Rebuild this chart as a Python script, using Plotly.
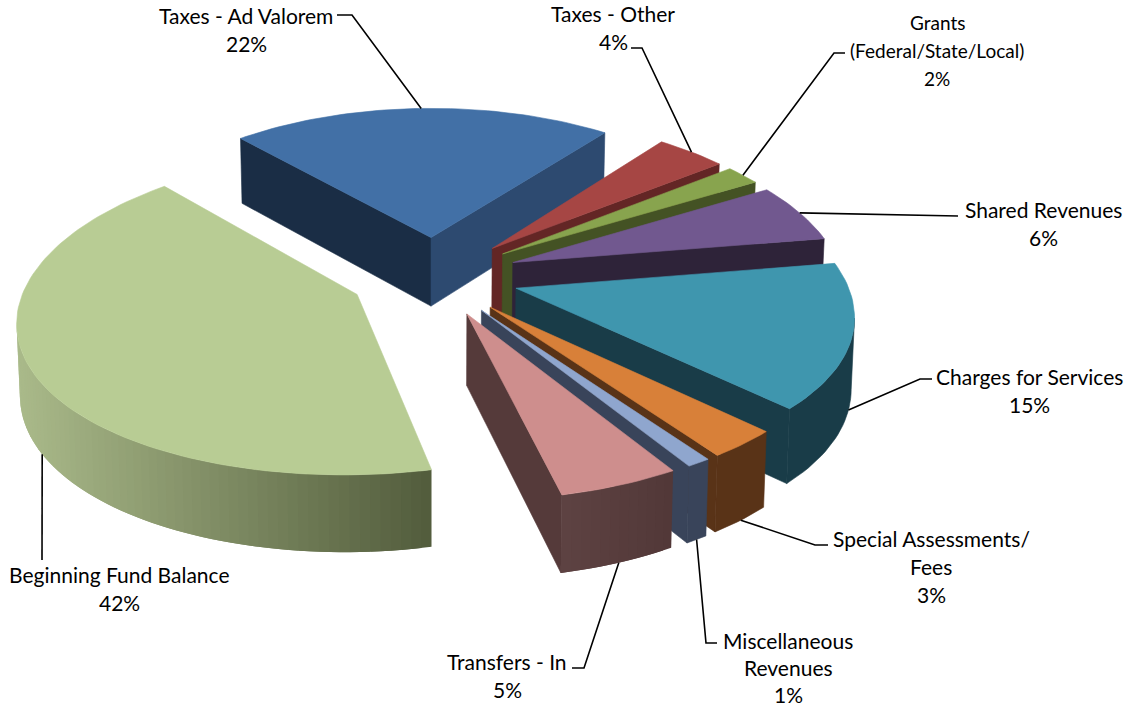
import math
import plotly.graph_objects as go

# Revenue shares, clockwise from the first slice
categories = ["Taxes - Ad Valorem", "Taxes - Other", "Grants (Federal/State/Local)",
              "Shared Revenues", "Charges for Services", "Special Assessments/ Fees",
              "Miscellaneous Revenues", "Transfers - In", "Beginning Fund Balance"]
shares = [22, 4, 2, 6, 15, 3, 1, 5, 42]

# Label text, split into drawn lines
label_lines = [["Taxes - Ad Valorem"], ["Taxes - Other"], ["Grants", "(Federal/State/Local)"],
               ["Shared Revenues"], ["Charges for Services"], ["Special Assessments/", "Fees"],
               ["Miscellaneous", "Revenues"], ["Transfers - In"], ["Beginning Fund Balance"]]

# Colours per slice: top face, first cut face, second cut face, outer wall start and end
top_colors = ["#4270A6", "#A64644", "#88A44E", "#71588F", "#3F96AE", "#D88039", "#8FA6CE", "#CE8E8D", "#B8CC94"]
cut_a_colors = ["#1A2D45", "#632625", "#445224", "#2E2339", "#193C48", "#593317", "#39445A", "#553A3A", "#5C6842"]
cut_b_colors = ["#2D4A70", "#632625", "#445224", "#2E2339", "#193C48", "#593317", "#39445A", "#553A3A", "#5C6842"]
wall_start = ["#2D4A70", "#632625", "#445224", "#2E2339", "#193C48", "#593317", "#39445A", "#523838", "#525C3C"]
wall_end = ["#2D4A70", "#632625", "#445224", "#2E2339", "#193C48", "#593317", "#39445A", "#5E4242", "#AABA8A"]

# Label placement: centre x, y of the first line, line spacing, font size
label_x = [246, 613, 937, 1043, 1029, 931, 788, 507, 119]
label_y = [15, 13, 22, 209, 376, 538, 640, 661, 574]
label_step = [28, 28, 28, 28, 28, 28, 27, 28, 28]
label_size = [21, 21, 19, 21, 21, 21, 21, 21, 21]
# Elbow of each leader: the point next to the label, then the bend
leader_from = [(337, 15), (631, 48), (845, 53), (958, 216), (932, 379), (828, 545), (717, 643), (572, 668), (42, 560)]
leader_bend = [(352, 15), (642, 48), (834, 53), (958, 216), (920, 379), (815, 545), (706, 643), (584, 668), (42, 560)]
# Where each leader attaches: fraction along the slice's arc, and fraction down its wall
leader_pos = [0.5, 0.5, 0.5, 0.5, 0.5, 0.5, 0.5, 0.5, 0.478]
leader_drop = [0, 0, 0, 0, 1, 1, 1, 1, 1]

# Pie geometry and the perspective camera
START_ANGLE = -41.7
RADIUS = 329.0
EXPLODE = 85.0
CX, CY = 434.0, 276.0
TILT = 0.467
X_DISTANCE = 2246.0
Y_DISTANCE = 2705.0
THICKNESS = 70.0


def project(x, y):
    k = 1.0 / (1.0 + y / X_DISTANCE)
    return CX + x * k, CY - TILT * y / (1.0 + y / Y_DISTANCE), k


def lower(p, frac=1.0):
    """Point on the underside below a projected top-face point."""
    x, y, k = p
    return CX + (x - CX) * (1 - 0.008 * frac), y + frac * THICKNESS * k ** 0.55


def blend(c0, c1, t):
    a = [int(c0[i:i + 2], 16) for i in (1, 3, 5)]
    b = [int(c1[i:i + 2], 16) for i in (1, 3, 5)]
    return "rgb(%d,%d,%d)" % tuple(round(u + (v - u) * t) for u, v in zip(a, b))


fig = go.Figure()


def polygon(points, color, edge=0.6):
    xs = [p[0] for p in points] + [points[0][0]]
    ys = [p[1] for p in points] + [points[0][1]]
    fig.add_trace(go.Scatter(x=xs, y=ys, mode="lines", fill="toself", fillcolor=color,
                             line=dict(color=color, width=edge), hoverinfo="skip", showlegend=False))


def cut_face(apex, rim, mid, color):
    # A cut face shows only when the extrusion runs away from the slice interior
    ex, ey = rim[0] - apex[0], rim[1] - apex[1]
    mx, my = mid[0] - apex[0], mid[1] - apex[1]
    if (ex * my - ey * mx) * ex < 0:
        polygon([apex[:2], rim[:2], lower(rim), lower(apex)], color)


def outer_wall(rim, color_a, color_b):
    # Only the part of the rim running right to left faces the viewer
    front = [p for j, p in enumerate(rim)
             if (j + 1 < len(rim) and rim[j + 1][0] < p[0]) or (j > 0 and p[0] < rim[j - 1][0])]
    if len(front) < 2:
        return
    if color_a == color_b:
        polygon([p[:2] for p in front] + [lower(p) for p in reversed(front)], color_a)
        return
    # Shaded walls: overlapping strips, so no seams show between them
    x_hi, x_lo = front[0][0], front[-1][0]
    for s in range(len(front) - 1):
        chunk = front[s:s + 3]
        t = (x_hi - (front[s][0] + front[s + 1][0]) / 2) / max(x_hi - x_lo, 1)
        polygon([p[:2] for p in chunk] + [lower(p) for p in reversed(chunk)],
                blend(color_a, color_b, t), edge=0)


total = sum(shares)
angle = START_ANGLE
anchors = []
for i, share in enumerate(shares):
    a0 = angle
    a1 = angle + 360.0 * share / total
    angle = a1
    mid = math.radians((a0 + a1) / 2)
    ox, oy = EXPLODE * math.sin(mid), EXPLODE * math.cos(mid)
    apex = project(ox, oy)
    steps = max(4, int((a1 - a0) / 1.5))
    rim = []
    for s in range(steps + 1):
        t = math.radians(a0 + (a1 - a0) * s / steps)
        rim.append(project(ox + RADIUS * math.sin(t), oy + RADIUS * math.cos(t)))
    centre_rim = project(ox + RADIUS * math.sin(mid), oy + RADIUS * math.cos(mid))

    cut_face(apex, rim[0], centre_rim, cut_a_colors[i])
    cut_face(apex, rim[-1], centre_rim, cut_b_colors[i])
    outer_wall(rim, wall_start[i], wall_end[i])
    polygon([apex[:2]] + [p[:2] for p in rim], top_colors[i])

    at = math.radians(a0 + (a1 - a0) * leader_pos[i])
    hook = project(ox + RADIUS * math.sin(at), oy + RADIUS * math.cos(at))
    anchors.append(lower(hook, leader_drop[i]) if leader_drop[i] else hook[:2])

# Leader lines run from each label to its slice
for start, bend, end in zip(leader_from, leader_bend, anchors):
    fig.add_trace(go.Scatter(x=[start[0], bend[0], end[0]], y=[start[1], bend[1], end[1]], mode="lines",
                             line=dict(color="black", width=1.6), hoverinfo="skip", showlegend=False))

for lines, share, x, y, step, size in zip(label_lines, shares, label_x, label_y, label_step, label_size):
    for n, text in enumerate(lines + ["%d%%" % share]):
        fig.add_annotation(x=x, y=y + n * step, text=text, showarrow=False, xanchor="center",
                           yanchor="middle", font=dict(family="Lato", size=size, color="black"))

fig.update_xaxes(range=[0, 1132], visible=False, fixedrange=True)
fig.update_yaxes(range=[707, 0], visible=False, fixedrange=True)
fig.update_layout(width=1132, height=707, margin=dict(l=0, r=0, t=0, b=0),
                  paper_bgcolor="white", plot_bgcolor="white")
fig.write_html("out.html", config={"displayModeBar": False})
